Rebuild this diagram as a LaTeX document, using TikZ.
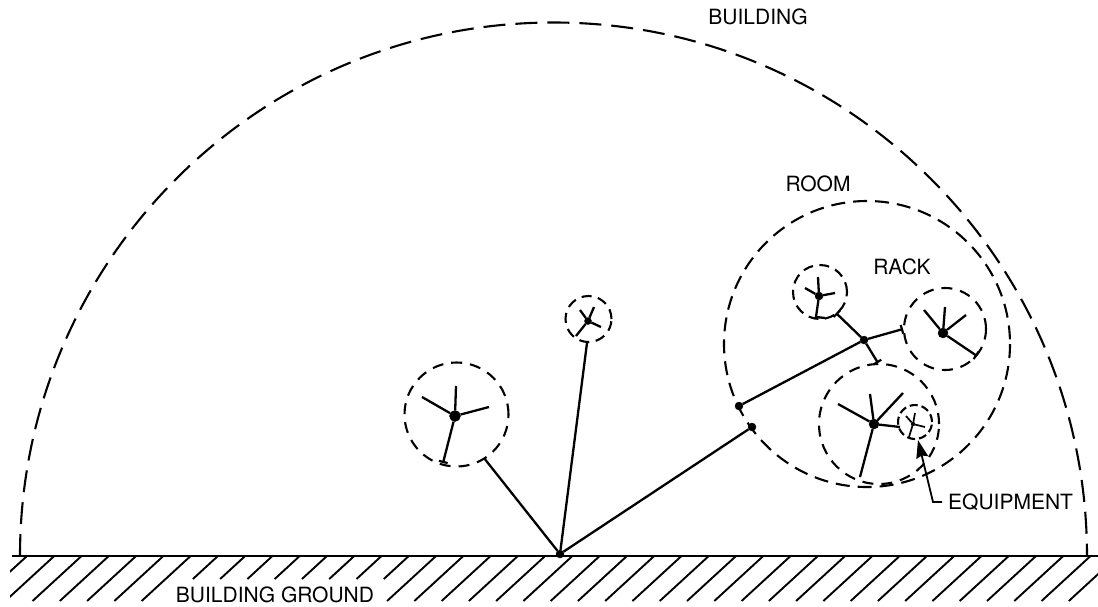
\documentclass[tikz,border=0pt]{standalone}
\usepackage{fontspec}
\setmainfont{TeX Gyre Heros}
\usetikzlibrary{arrows.meta}
\tikzset{
  wire/.style={line width=2.3pt},
  tick/.style={wire,-{Bar[width=9pt,line width=2.2pt]}},
  hub/.style={draw,shape=circle,fill=black,inner sep=0pt,minimum size=#1},
  ring/.style={draw,shape=circle,inner sep=0pt,line width=2.1pt,minimum size=#1,dash pattern=on 11pt off 8pt},
  smallring/.style={ring=#1,dash pattern=on 10pt off 6.5pt},
  tinyring/.style={ring=#1,dash pattern=on 8pt off 4pt},
  tag/.style={font=\fontsize{21}{24}\selectfont,inner sep=6pt}
}
\begin{document}
\begin{tikzpicture}[x=1pt,y=-1pt]
  \useasboundingbox (0,0) rectangle (1098,606);
  % ground and hatching
  \path (12,556) coordinate (g0) (1098,556) coordinate (g1);
  \draw[line width=2.6pt] (g0) -- (g1);
  \begin{scope}
    \clip (10,556) rectangle (1098,606);
    \foreach \i [evaluate=\i as \xt using 27+27.27*\i] in {0,...,6,15,16,...,40}
      \draw[line width=1.9pt] (\xt,556) -- (\xt-49,601);
    \foreach \i [evaluate=\i as \xt using 27+27.27*\i] in {7,...,14}
      \draw[line width=1.9pt] (\xt,556) -- (\xt-25,579);
  \end{scope}
  % building and room
  \draw[line width=2.1pt,dash pattern=on 22pt off 10pt] (20,556) arc (180:360:533.5);
  \draw[line width=2.1pt,dash pattern=on 14pt off 8pt] (867,344) circle (143);
  % racks
  \path (456.5,414.5) node[ring=104pt] (r0) {} (588.5,319) node[smallring=46pt] (r1) {}
  (820,292) node[smallring=54pt] (r2) {} (945,329) node[ring=82pt] (r3) {}
  (879,424) node[ring=120pt] (r4) {} (915,422) node[tinyring=34pt] (r5) {};
  % junctions
  \path (560,554) node[hub=8pt] (j0) {} (752,427) node[hub=8pt] (j1) {}
  (739,406) node[hub=8pt] (j2) {} (864,340) node[hub=8pt] (j3) {};
  \path (484,458) coordinate (e0) (587,343) coordinate (e1) (836,313) coordinate (e2)
  (903,329) coordinate (e3) (878,363) coordinate (e4);
  \draw[wire] (j0) -- (e0);
  \draw[wire] (j0) -- (e1);
  \draw[wire] (j0) -- (j1);
  \draw[wire] (j2) -- (j3);
  \draw[tick] (j3) -- (e2);
  \draw[tick] (j3) -- (e3);
  \draw[tick] (j3) -- (e4);
  % equipment stars
  \path (455,416) node[hub=11pt] (h0) {} (422,397) coordinate (a0) (456,386) coordinate (a1)
  (489,407) coordinate (a2) (443,463) coordinate (a3);
  \foreach \e in {a0,a1,a2} \draw[wire] (h0) -- (\e);
  \draw[tick] (h0) -- (a3);
  \path (588,321) node[hub=7pt] (h1) {} (580,310) coordinate (b0) (594,307) coordinate (b1)
  (601,327) coordinate (b2) (576,336) coordinate (b3);
  \foreach \e in {b0,b1,b2,b3} \draw[wire] (h1) -- (\e);
  \path (819,296) node[hub=8pt] (h2) {} (818,277) coordinate (c0) (805,288) coordinate (c1)
  (835,293) coordinate (c2) (816,317) coordinate (c3) (825,318) coordinate (c4);
  \foreach \e in {c0,c1,c2} \draw[wire] (h2) -- (\e);
  \draw[wire] (h2) -- (c3) -- (c4);
  \path (943,333) node[hub=10pt] (h3) {} (924,310) coordinate (d0) (945,307) coordinate (d1)
  (966,315) coordinate (d2) (977,356) coordinate (d3);
  \foreach \e in {d0,d1,d2} \draw[wire] (h3) -- (\e);
  \draw[tick] (h3) -- (d3);
  \path (874,424) node[hub=10pt] (h4) {} (838,404) coordinate (f0) (870,394) coordinate (f1)
  (903,393) coordinate (f2) (900,427) coordinate (f3) (860,477) coordinate (f4);
  \foreach \e in {f0,f1,f2,f3,f4} \draw[wire] (h4) -- (\e);
  \path (913,424) node[hub=4pt] (h5) {} (906,416) coordinate (k0) (915,413) coordinate (k1)
  (925,427) coordinate (k2) (909,437) coordinate (k3);
  \foreach \e in {k0,k1,k2,k3} \draw[line width=1.7pt] (h5) -- (\e);
  % labels
  \node[tag] (building) at (758,17) {BUILDING};
  \node[tag] (room) at (818,184) {ROOM};
  \node[tag] (rack) at (902,267) {RACK};
  \node[tag] (ground) at (275,595) {BUILDING GROUND};
  \node[tag,anchor=west] (equipment) at (942,502) {EQUIPMENT};
  \path (933,502) coordinate (q0) (918,440) coordinate (q1);
  \draw[line width=1.8pt,-{Stealth[length=18pt,width=12pt,inset=2pt]}] (equipment) -- (q0) -- (q1);
\end{tikzpicture}
\end{document}
